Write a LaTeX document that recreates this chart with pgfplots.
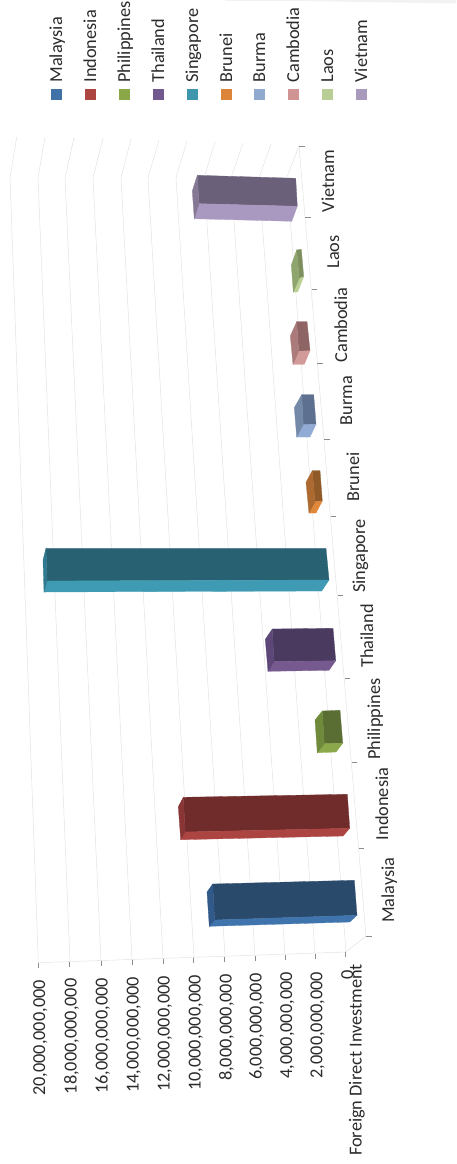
\documentclass[border=0pt]{standalone}
\usepackage{fontspec}
\setmainfont{Carlito}
\usepackage{pgfplots}
\pgfplotsset{compat=1.18}
\definecolor{txt}{HTML}{2B2B2B}
\definecolor{gridc}{HTML}{E2E2E2}
\definecolor{tickc}{HTML}{8C8C8C}
% series colours: D dark side, L light side, C end cap, S legend swatch
\definecolor{malaD}{HTML}{2A4A6C}\definecolor{malaL}{HTML}{3F74AD}\definecolor{malaC}{HTML}{31598A}\definecolor{malaS}{HTML}{4072A8}
\definecolor{indoD}{HTML}{702B2B}\definecolor{indoL}{HTML}{AC4442}\definecolor{indoC}{HTML}{893535}\definecolor{indoS}{HTML}{AC4442}
\definecolor{philD}{HTML}{5A6E33}\definecolor{philL}{HTML}{8BA94A}\definecolor{philC}{HTML}{6F8A3B}\definecolor{philS}{HTML}{8BA848}
\definecolor{thaiD}{HTML}{4A3A60}\definecolor{thaiL}{HTML}{76598F}\definecolor{thaiC}{HTML}{5D4678}\definecolor{thaiS}{HTML}{71588F}
\definecolor{singD}{HTML}{286272}\definecolor{singL}{HTML}{3F9AB3}\definecolor{singC}{HTML}{2F7A8E}\definecolor{singS}{HTML}{3F97AE}
\definecolor{brunD}{HTML}{8F5A28}\definecolor{brunL}{HTML}{E0873A}\definecolor{brunC}{HTML}{AD6A30}\definecolor{brunS}{HTML}{DC843A}
\definecolor{burmD}{HTML}{5E7090}\definecolor{burmL}{HTML}{92ABD4}\definecolor{burmC}{HTML}{7488A8}\definecolor{burmS}{HTML}{8FA9CF}
\definecolor{cambD}{HTML}{8F6464}\definecolor{cambL}{HTML}{D29A98}\definecolor{cambC}{HTML}{AA7B7A}\definecolor{cambS}{HTML}{CF9493}
\definecolor{laosD}{HTML}{7D8F5E}\definecolor{laosL}{HTML}{BAD195}\definecolor{laosC}{HTML}{8FA56E}\definecolor{laosS}{HTML}{B8CE94}
\definecolor{vietD}{HTML}{6B6079}\definecolor{vietL}{HTML}{A998C0}\definecolor{vietC}{HTML}{847894}\definecolor{vietS}{HTML}{A79ABD}
% one box of the perspective column chart: dark side, light side, end cap
\newcommand{\face}[2]{\addplot[fill=#1,draw=#1,line width=0.3pt] coordinates {#2} -- cycle;}
\newcommand{\gridl}[1]{\addplot[gridc,line width=0.5pt] coordinates {#1};}
\newcommand{\tickl}[1]{\addplot[tickc,line width=0.6pt] coordinates {#1};}
\newcommand{\vallabel}[3]{\node[rotate=90,anchor=base east,font=\fontsize{18.3}{20}\selectfont,text=txt,inner sep=0pt] at (axis cs:#1,#2) {#3};}
\newcommand{\catlabel}[3]{\node[rotate=90,anchor=base,font=\fontsize{18.3}{20}\selectfont,text=txt,inner sep=0pt] at (axis cs:#1,#2) {#3};}
\newcommand{\legitem}[4]{\addplot[fill=#2,draw=none] coordinates {(#1,89) (#3,89) (#3,100) (#1,100)} -- cycle;
  \node[rotate=90,anchor=base west,font=\fontsize{18.3}{20}\selectfont,text=txt,inner sep=0pt] at (axis cs:#3,82.7) {#4};}
\begin{document}
\begin{tikzpicture}[x=1pt,y=1pt]
\begin{axis}[
  scale only axis,width=456pt,height=1164pt,
  xmin=0,xmax=456,ymin=0,ymax=1164,y dir=reverse,
  axis lines=none,clip=false]

% keep the full canvas in the bounding box
\path (axis cs:0,0) (axis cs:456,1164);

% pale strip along the top edge
\addplot[fill=black!5,draw=none] coordinates {(225,0)(456,0)(456,3.5)(425,3)(300,1)(225,1)} -- cycle;

% value gridlines: wall segment, then floor segment
\gridl{(16.7,137)(10,178)(38.3,962)}
\gridl{(45,137)(38,178)(70,961.5)}
\gridl{(74,137.5)(65,178)(101,960.5)}
\gridl{(103,138)(93,178)(132,960)}
\gridl{(131,139)(121,178)(163,959)}
\gridl{(159,140)(148,178)(194,958)}
\gridl{(187,141)(176,178)(225,956.5)}
\gridl{(215,142)(204,178)(255,955.5)}
\gridl{(243,143)(231,178)(285,955)}
\gridl{(271,144)(259,178)(315,953.5)}
\gridl{(299,146)(287,177)(346,952)}
% floor edges
\gridl{(299,146)(366,936)(346,952)(38.3,962.7)}

% category ticks
\tickl{(299,146)(304.5,146)}
\tickl{(305,217)(311,217)}
\tickl{(311.5,289)(317,289)}
\tickl{(317,363)(323,363)}
\tickl{(324,439)(329.5,439)}
\tickl{(331,516)(336,516)}
\tickl{(337.5,595)(343,595)}
\tickl{(344.5,678)(350,678)}
\tickl{(352,762)(357,762)}
\tickl{(358.5,848)(364,848)}
\tickl{(366,936)(371.5,936)}
% value ticks
\tickl{(38.3,962.7)(38.3,967.5)}
\tickl{(69.7,961.7)(69.7,967)}
\tickl{(101,960.5)(101,965.5)}
\tickl{(132,959.5)(132,964.5)}
\tickl{(163,958.5)(163,963.5)}
\tickl{(193.7,957.5)(193.7,962.5)}
\tickl{(224.7,956.5)(224.7,961.5)}
\tickl{(255,955.5)(255,960.5)}
\tickl{(285,954.5)(285,959.5)}
\tickl{(315.3,953.5)(315.3,958.5)}
\tickl{(345.7,952)(345.7,957)}

% Vietnam
\face{vietD}{(197.3,175.3)(295.7,178.3)(297.3,206.3)(199,203.7)}
\face{vietL}{(199,203.7)(297.3,206.3)(291.7,221.3)(194.3,218.7)}
\face{vietC}{(197.3,175.3)(199,203.7)(194.3,218.7)(192.3,191)}
% Laos
\face{laosD}{(296.7,250)(301.3,249.3)(303.7,276.7)(299.3,278.3)}
\face{laosL}{(299.3,278.3)(303.7,276.7)(297.7,292)(293.3,292)}
\face{laosC}{(296.7,250)(299.3,278.3)(293.3,292)(291.3,265)}
% Cambodia
\face{cambD}{(296.7,321.7)(307,321.7)(310,350.7)(298.7,351.3)}
\face{cambL}{(298.7,351.3)(310,350.7)(304.3,364.3)(293,364.3)}
\face{cambC}{(296.7,321.7)(298.7,351.3)(293,364.3)(290.3,336)}
% Burma
\face{burmD}{(301.7,394.7)(313.7,394.7)(316,424.3)(303.3,424.7)}
\face{burmL}{(303.3,424.7)(316,424.3)(310,437)(296.7,437)}
\face{burmC}{(301.7,394.7)(303.3,424.7)(296.7,437)(294.3,407.7)}
% Brunei
\face{brunD}{(312.3,470.7)(320,470.7)(322.3,501)(315,501.7)}
\face{brunL}{(315,501.7)(322.3,501)(316,513)(309,513)}
\face{brunC}{(312.3,470.7)(315,501.7)(309,513)(306,482.3)}
% Singapore
\face{singD}{(46,548.3)(326,548.3)(329,580)(47,581)}
\face{singL}{(47,581)(329,580)(321.7,591)(44,592)}
\face{singC}{(46,548.3)(47,581)(44,592)(43,560)}
% Thailand
\face{thaiD}{(272.3,629)(333,628.3)(335.7,660.7)(274,661.7)}
\face{thaiL}{(274,661.7)(335.7,660.7)(329,670.3)(268,671.3)}
\face{thaiC}{(272.3,629)(274,661.7)(268,671.3)(265.3,639.3)}
% Philippines
\face{philD}{(322.3,711)(340,710.3)(342.7,743.3)(324.3,743.7)}
\face{philL}{(324.3,743.7)(342.7,743.3)(336,752)(317.3,752.7)}
\face{philC}{(322.3,711)(324.3,743.7)(317.3,752.7)(315,720)}
% Indonesia
\face{indoD}{(183.3,797.3)(347.3,794.3)(349.7,828.3)(185.3,832)}
\face{indoL}{(185.3,832)(349.7,828.3)(343,836)(180.7,839.7)}
\face{indoC}{(183.3,797.3)(185.3,832)(180.7,839.7)(178.3,806.7)}
% Malaysia
\face{malaD}{(212.7,884)(354.3,880.3)(357,915.3)(214.7,920)}
\face{malaL}{(214.7,920)(357,915.3)(349.7,922)(209.3,926.3)}
\face{malaC}{(212.7,884)(214.7,920)(209.3,926.3)(207,892)}

% legend
\legitem{51}{malaS}{62}{Malaysia}
\legitem{85}{indoS}{96}{Indonesia}
\legitem{119}{philS}{130}{Philippines}
\legitem{153}{thaiS}{164}{Thailand}
\legitem{187}{singS}{198}{Singapore}
\legitem{221}{brunS}{232}{Brunei}
\legitem{254}{burmS}{265}{Burma}
\legitem{288}{cambS}{299}{Cambodia}
\legitem{322}{laosS}{333}{Laos}
\legitem{356}{vietS}{367}{Vietnam}

% category labels
\catlabel{334}{181}{Vietnam}
\catlabel{339}{252}{Laos}
\catlabel{347}{325}{Cambodia}
\catlabel{352}{400.5}{Burma}
\catlabel{359}{477}{Brunei}
\catlabel{365}{556}{Singapore}
\catlabel{373}{636}{Thailand}
\catlabel{380}{719}{Philippines}
\catlabel{388}{804}{Indonesia}
\catlabel{394}{890}{Malaysia}

% value labels
\vallabel{45}{980}{20,000,000,000}
\vallabel{76.7}{978.3}{18,000,000,000}
\vallabel{107.7}{978}{16,000,000,000}
\vallabel{138.5}{976.7}{14,000,000,000}
\vallabel{169.5}{976}{12,000,000,000}
\vallabel{200.7}{975}{10,000,000,000}
\vallabel{231.7}{974.3}{8,000,000,000}
\vallabel{261.7}{973.3}{6,000,000,000}
\vallabel{292}{972}{4,000,000,000}
\vallabel{322.3}{971.7}{2,000,000,000}
\vallabel{353}{970}{0}
\catlabel{361.7}{1060}{Foreign Direct Investment}
\end{axis}
\end{tikzpicture}
\end{document}
